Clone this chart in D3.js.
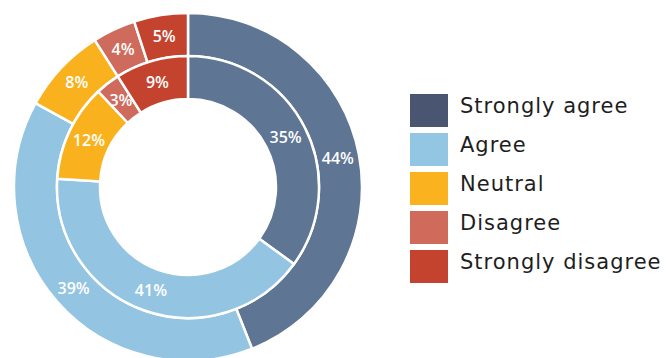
<!DOCTYPE html>
<html>
<head>
<meta charset="utf-8">
<script src="https://cdn.jsdelivr.net/npm/d3@7"></script>
<style>
  body { margin: 0; background: #fff; }
  svg { display: block; }
</style>
</head>
<body>
<svg id="chart" width="666" height="358"></svg>
<script>
// answers, in ring order (clockwise from 12 o'clock)
var categories = ["Strongly agree", "Agree", "Neutral", "Disagree", "Strongly disagree"];
var outerValues = [44, 39, 8, 4, 5];
var innerValues = [35, 41, 12, 3, 9];
var arcColors = ["#5e7594", "#93c5e2", "#f9b21e", "#cf6b5d", "#c3432f"];
var legendColors = ["#4a5572", "#93c6e3", "#fbb21f", "#d06b5c", "#c4432e"];

var svg = d3.select("#chart");
var cx = 188, cy = 187;

var color = d3.scaleOrdinal().domain(categories).range(arcColors);
var pie = d3.pie().sort(null).value(function(d){ return d.value; });

function makeRing(values, r0, r1, cls){
	var data = categories.map(function(c, i){ return {cat: c, value: values[i]}; });
	var arc = d3.arc().innerRadius(r0).outerRadius(r1);
	var g = svg.append("g").attr("class", cls).attr("transform", "translate(" + cx + "," + cy + ")");
	var slices = pie(data);

	g.selectAll("path")
	.data(slices)
	.enter().append("path")
	.attr("d", arc)
	.attr("fill", function(d){ return color(d.data.cat); })
	.attr("stroke", "#fff")
	.attr("stroke-width", 2.5);

	g.selectAll("text")
	.data(slices)
	.enter().append("text")
	.attr("transform", function(d){ return "translate(" + arc.centroid(d) + ")"; })
	.attr("text-anchor", "middle")
	.attr("dy", "0.36em")
	.attr("fill", "#fff")
	.style("font-family", "'Open Sans', sans-serif")
	.style("font-weight", "600")
	.style("font-size", "16px")
	.text(function(d){ return d.data.value + "%"; });
}

makeRing(outerValues, 131, 174, "outer");
makeRing(innerValues, 88, 131, "inner");

// legend
var legend = svg.append("g").attr("transform", "translate(410,94)");
var row = legend.selectAll("g")
.data(categories)
.enter().append("g")
.attr("transform", function(d, i){ return "translate(0," + i * 39 + ")"; });

row.append("rect")
.attr("width", 38)
.attr("height", 33)
.attr("fill", function(d, i){ return legendColors[i]; });

row.append("text")
.attr("x", 50)
.attr("y", 19)
.attr("fill", "#1e1e1e")
.style("font-family", "'DejaVu Sans', sans-serif")
.style("font-size", "21px")
.style("letter-spacing", "1px")
.text(function(d){ return d; });
</script>
</body>
</html>
